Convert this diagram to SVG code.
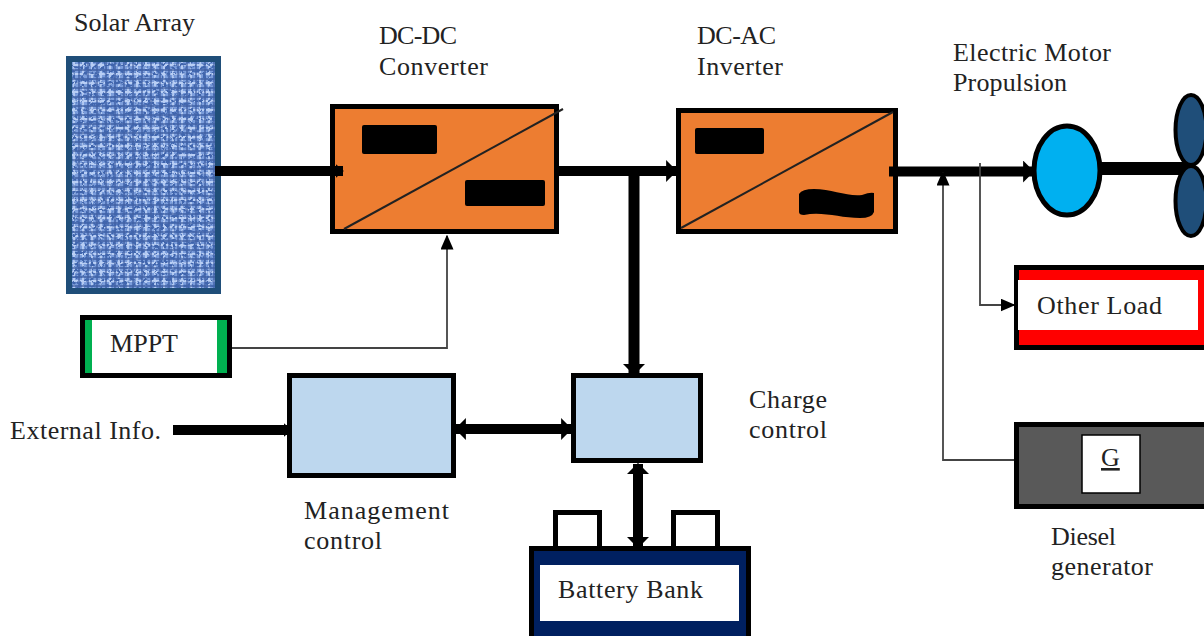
<svg xmlns="http://www.w3.org/2000/svg" width="1204" height="636" viewBox="0 0 1204 636">
<style>
text{font-family:"Liberation Serif","Times New Roman",serif;font-size:26px;fill:#222}
.box{stroke:#000;stroke-width:5}
.thick{fill:none;stroke:#000;stroke-width:10}
.thin{fill:none;stroke:#444;stroke-width:1.800}
.blk{fill:#000}
</style>
<defs>
<filter id="weave" x="0" y="0" width="100%" height="100%">
<feTurbulence type="fractalNoise" baseFrequency="0.33 0.33" numOctaves="2" seed="11"/>
<feColorMatrix type="matrix" values="0 0 0 0 0.05  0 0 0 0 0.13  0 0 0 0 0.42  5 5 0 0 -5"/>
<feGaussianBlur stdDeviation="0.6"/>
</filter>
<pattern id="grid" width="9" height="9" patternUnits="userSpaceOnUse">
<rect width="9" height="9" fill="#7c9edc"/>
<path d="M0 2H9M2 0V9" stroke="#b9cff5" stroke-width="1.800"/>
<path d="M0 7H9M7 0V9" stroke="#2a4a90" stroke-width="1.400" opacity=".75"/>
</pattern>
<marker id="a" viewBox="0 0 10 10" refX="9" refY="5" markerWidth="11" markerHeight="22" markerUnits="userSpaceOnUse" orient="auto-start-reverse" preserveAspectRatio="none"><path d="M0 0L10 5L0 10Z"/></marker>
<marker id="s" viewBox="0 0 10 10" refX="9" refY="5" markerWidth="8" markerHeight="14" markerUnits="userSpaceOnUse" orient="auto" preserveAspectRatio="none"><path d="M0 0L10 5L0 10Z"/></marker>
<marker id="t" viewBox="0 0 10 10" refX="9" refY="5" markerWidth="15" markerHeight="13" markerUnits="userSpaceOnUse" orient="auto" preserveAspectRatio="none"><path d="M0 0L10 5L0 10Z"/></marker>
</defs>

<g id="solar-array">
<rect x="69" y="59" width="149" height="232" fill="url(#grid)" stroke="#1f4e79" stroke-width="6"/>
<rect x="72" y="62" width="143" height="226" filter="url(#weave)"/>
<text x="74" y="31" textLength="121">Solar Array</text>
</g>

<g id="dc-dc-converter">
<rect class="box" x="332.500" y="106.500" width="224" height="125" fill="#ed7d31"/>
<path d="M344 229L563 109" stroke="#222" stroke-width="2" fill="none"/>
<rect class="blk" x="362" y="125" width="75" height="29" rx="2"/>
<rect class="blk" x="465" y="180" width="80" height="26" rx="2"/>
<text x="379" y="44" textLength="78">DC-DC</text>
<text x="379" y="75" textLength="109">Converter</text>
</g>

<g id="dc-ac-inverter">
<rect class="box" x="678.500" y="110.500" width="217" height="121" fill="#ed7d31"/>
<path d="M681 228L893 112" stroke="#222" stroke-width="2" fill="none"/>
<rect class="blk" x="695" y="128" width="69" height="26" rx="2"/>
<path class="blk" d="M799 194Q802 189 814 189C832 189 848 197 862 195Q870 192 874 193V212Q872 218 860 218C840 218 822 211 804 215Q799 215 799 212Z"/>
<text x="697" y="44" textLength="79">DC-AC</text>
<text x="697" y="75" textLength="86">Inverter</text>
</g>

<g id="electric-motor">
<rect class="blk" x="1098" y="162" width="92" height="13"/>
<ellipse cx="1191" cy="130" rx="15.500" ry="35" fill="#1f4e79" stroke="#000" stroke-width="4"/>
<ellipse cx="1191" cy="201" rx="15.500" ry="35" fill="#1f4e79" stroke="#000" stroke-width="4"/>
<ellipse cx="1067" cy="170.500" rx="33" ry="44.500" fill="#00b0f0" stroke="#000" stroke-width="5"/>
<text x="953" y="61" textLength="158">Electric Motor</text>
<text x="953" y="91" textLength="114">Propulsion</text>
</g>

<g id="mppt">
<rect x="82.500" y="317.500" width="147" height="58" fill="#fff" class="box"/>
<rect x="85" y="320" width="7" height="53" fill="#00b050"/>
<rect x="217" y="320" width="10" height="53" fill="#00b050"/>
<text x="110" y="352" textLength="68">MPPT</text>
</g>

<g id="management-control">
<rect class="box" x="289.500" y="375.500" width="164" height="100" fill="#bdd7ee"/>
<text x="304" y="519" textLength="145">Management</text>
<text x="304" y="549" textLength="78">control</text>
</g>

<g id="charge-control">
<rect class="box" x="573.500" y="375.500" width="127" height="85" fill="#bdd7ee"/>
<text x="749" y="408" textLength="78">Charge</text>
<text x="749" y="438" textLength="78">control</text>
</g>

<g id="battery-bank">
<rect class="box" x="555.500" y="512.500" width="44" height="36" fill="#fff"/>
<rect class="box" x="673.500" y="512.500" width="44" height="36" fill="#fff"/>
<rect x="531.500" y="548.500" width="217" height="92" fill="#002060" stroke="#000" stroke-width="5"/>
<rect x="540" y="565" width="199" height="56" fill="#fff"/>
<text x="558" y="598" textLength="145">Battery Bank</text>
</g>

<g id="other-load">
<rect class="box" x="1016.500" y="267.500" width="192" height="80" fill="#f00"/>
<rect x="1018" y="280" width="180" height="50" fill="#fff"/>
<text x="1037" y="314" textLength="125">Other Load</text>
</g>

<g id="diesel-generator">
<rect class="box" x="1016.500" y="424.500" width="192" height="82" fill="#595959"/>
<rect x="1082" y="435" width="58" height="58" fill="#fff" stroke="#000" stroke-width="1.500"/>
<text x="1101" y="466" text-decoration="underline" textLength="18">G</text>
<text x="1051" y="545" textLength="65">Diesel</text>
<text x="1051" y="575" textLength="102">generator</text>
</g>

<g id="external-info">
<text x="10" y="439" textLength="151">External Info.</text>
</g>

<g id="connectors">
<path class="thick" d="M215 171H343" marker-end="url(#s)"/>
<path class="thick" d="M559 171H676" marker-end="url(#a)"/>
<path class="thick" d="M634 166V374" style="stroke-width:11" marker-end="url(#a)"/>
<path class="thick" d="M889 171.500H1033" marker-end="url(#a)"/>
<path class="thick" d="M173 430H291" marker-end="url(#s)"/>
<path class="thick" d="M456 429H571" marker-start="url(#a)" marker-end="url(#a)"/>
<path class="thick" d="M638 464V547" marker-start="url(#a)" marker-end="url(#a)"/>
<path class="thin" d="M232 348H447V236" marker-end="url(#t)"/>
<path class="thin" d="M980 163V305H1014" marker-end="url(#t)"/>
<path class="thin" d="M1014 460H943V172" marker-end="url(#t)"/>
</g>
</svg>
